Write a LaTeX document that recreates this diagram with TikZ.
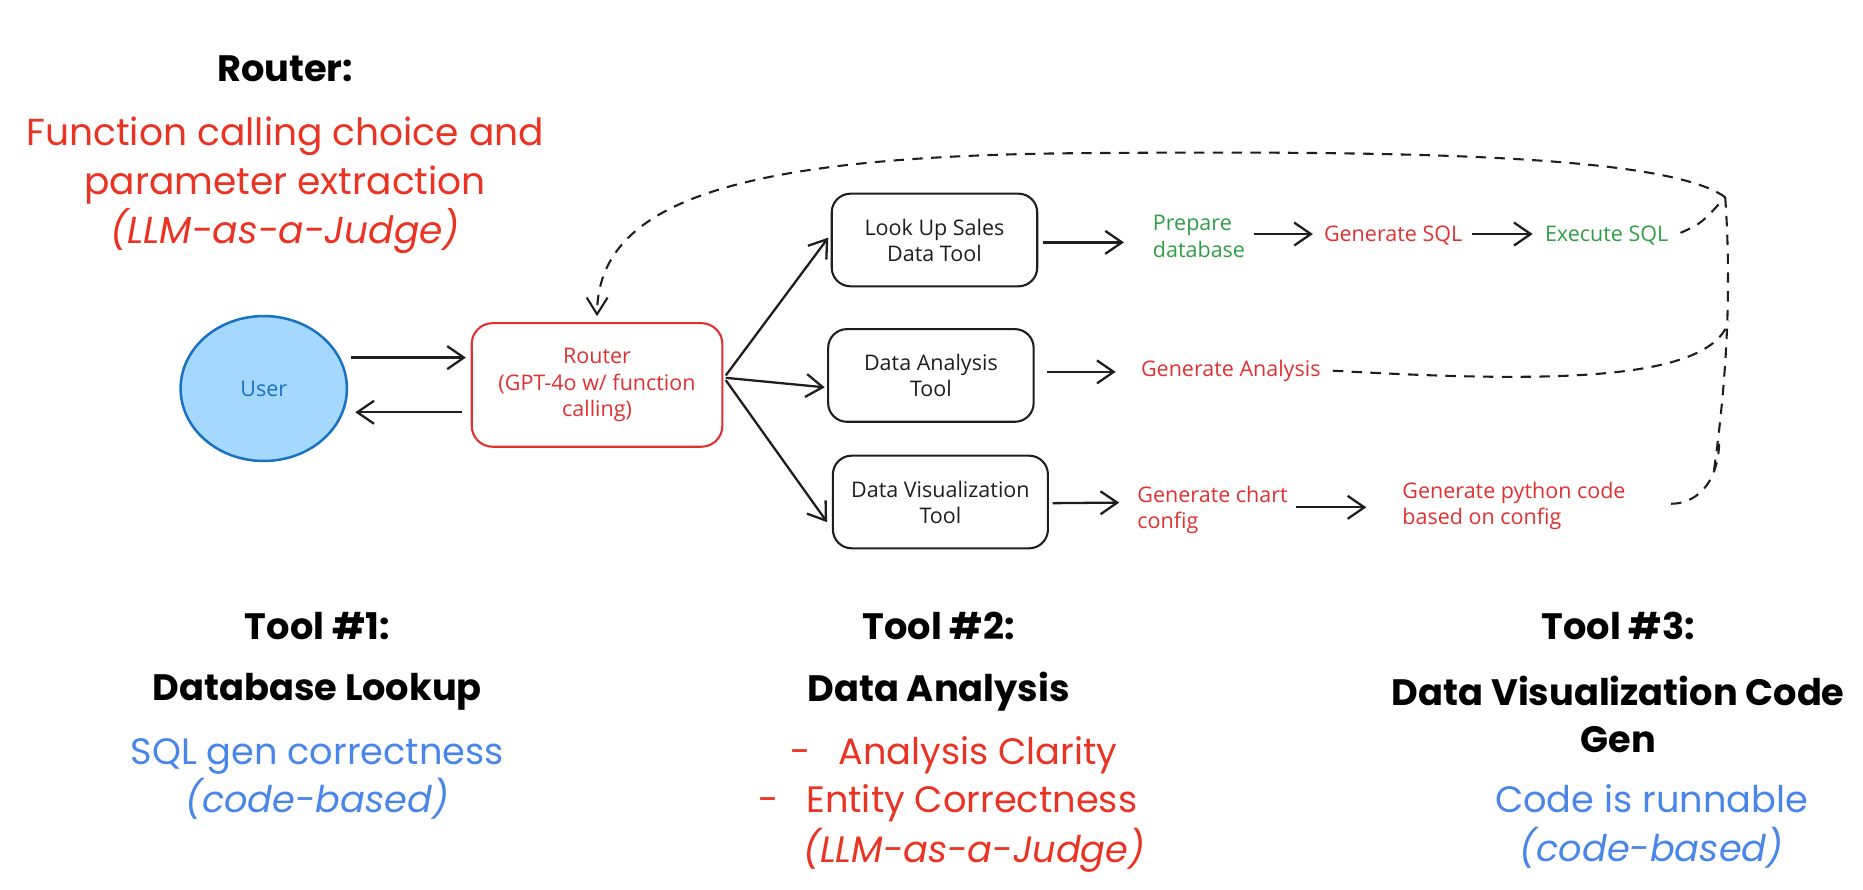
\documentclass[tikz,border=0pt]{standalone}
\usepackage{fontspec}
\setmainfont{Poppins}
\newfontfamily\handfont{Open Sans}
\usetikzlibrary{arrows.meta,shapes.geometric,calc}
\definecolor{xred}{HTML}{E03131}
\definecolor{xgreen}{HTML}{2F9E44}
\definecolor{xblue}{HTML}{1971C2}
\definecolor{xfill}{HTML}{A5D8FF}
\definecolor{sred}{HTML}{EA3323}
\definecolor{sblue}{HTML}{4A86E8}
\definecolor{ink}{HTML}{1E1E1E}
\begin{document}
\begin{tikzpicture}[x=0.02cm,y=-0.02cm,
  handtxt/.style={font=\handfont\fontsize{10.3}{12.5}\selectfont, inner sep=0pt, align=left},
  boxnode/.style={draw=ink, line width=1pt, rounded corners=9pt, minimum height=1.56cm, inner sep=0pt, text=ink, handtxt, align=center},
  routernode/.style={draw=xred, line width=1pt, rounded corners=10pt, minimum width=4.22cm, minimum height=2.08cm, inner sep=0pt, text=xred, handtxt, align=center},
  usernode/.style={ellipse, draw=xblue, fill=xfill, line width=1.2pt, minimum width=2.8cm, minimum height=2.44cm, inner sep=0pt, text=xblue, handtxt},
  bigtxt/.style={font=\fontsize{17.6}{22.7}\selectfont, inner sep=0pt, align=center},
  headtxt/.style={font=\bfseries\fontsize{17.6}{22.7}\selectfont, inner sep=0pt, align=center, text=black},
  arr/.style={draw=ink, line width=1.1pt, -{Straight Barb[length=8pt,width=11pt,line width=1.1pt]}},
  dashln/.style={draw=ink, line width=1pt, dash pattern=on 5pt off 4pt},
]
\useasboundingbox (0,0) rectangle (1568,749);

% top-left description
\node[headtxt] (rtitle) at (240,58) {Router:};
\node[bigtxt, text=sred, font=\fontsize{18}{23.5}\selectfont] (rdesc) at (240,156)
  {Function calling choice and\\parameter extraction\\\textit{(LLM-as-a-Judge)}};

% diagram nodes
\node[usernode] (user) at (222,327) {User};
\node[routernode] (router) at (502.5,324) {Router\\(GPT-4o w/ function\\calling)};
\node[boxnode, minimum width=3.46cm] (lookup) at (786.5,202) {Look Up Sales\\Data Tool};
\node[boxnode, minimum width=3.46cm] (analysis) at (783.5,316) {Data Analysis\\Tool};
\node[boxnode, minimum width=3.62cm] (viz) at (791.5,422.5) {Data Visualization\\Tool};

\node[handtxt, text=xgreen, anchor=west] (prep) at (970,199) {Prepare\\database};
\node[handtxt, text=xred, anchor=west] (gensql) at (1114,198) {Generate SQL};
\node[handtxt, text=xgreen, anchor=west] (exec) at (1300,198) {Execute SQL};
\node[handtxt, text=xred, anchor=west] (genan) at (960,312) {Generate Analysis};
\node[handtxt, text=xred, anchor=west] (chart) at (957,429) {Generate chart\\config};
\node[handtxt, text=xred, anchor=west] (pyth) at (1180,426) {Generate python code\\based on config};

% user <-> router
\draw[arr] ($(user.east)+(2,-26)$) -- ($(router.west)+(-4,-23)$);
\draw[arr] ($(router.west)+(-7,23)$) -- ($(user.east)+(6,20)$);

% router -> tools
\draw[arr] ($(router.east)+(2,-8)$) -- ($(lookup.west)+(-2,-2)$);
\draw[arr] ($(router.east)+(2,-6)$) -- ($(analysis.west)+(-2,10)$);
\draw[arr] ($(router.east)+(2,-4)$) -- ($(viz.west)+(-4,17)$);

% tool chains
\draw[arr] ($(lookup.east)+(4,2)$) -- ($(prep.west)+(-24,5)$);
\draw[arr] ($(prep.east)+(7,-2)$) -- ($(gensql.west)+(-9,-1)$);
\draw[arr] ($(gensql.east)+(8,-1)$) -- ($(exec.west)+(-10,-1)$);
\draw[arr] ($(analysis.east)+(10,-3)$) -- ($(genan.west)+(-21,1)$);
\draw[arr] ($(viz.east)+(3,1)$) -- ($(chart.west)+(-15,-6)$);
\draw[arr] ($(chart.east)+(7,-2)$) -- ($(pyth.west)+(-30,1)$);

% dashed feedback
\coordinate (corner) at (1452,166);
\draw[dashln] ($(exec.east)+(10,-2)$) .. controls (1432,188) .. (corner);
\draw[dashln] ($(genan.east)+(10,0)$) .. controls (1300,322) and (1440,322) .. (1455,270);
\draw[dashln] ($(pyth.east)+(38,-2)$) .. controls (1425,424) and (1446,410) .. (1447,372);
\draw[dashln] (corner) .. controls (1458,250) and (1452,330) .. (1442,400);
\draw[dashln, -{Straight Barb[length=8pt,width=10pt,line width=1pt]}]
  (corner) .. controls (1400,128) and (1150,127) .. (900,129)
  .. controls (620,132) and (503,170) .. ($(router.north)+(0,-5)$);

% bottom descriptions
\node[headtxt] (t1h) at (267,527) {Tool \#1:};
\node[headtxt] (t1n) at (267,582) {Database Lookup};
\node[bigtxt, text=sblue] (t1d) at (267,655.5) {SQL gen correctness\\\textit{(code-based)}};

\node[headtxt] (t2h) at (790,527) {Tool \#2:};
\node[headtxt] (t2n) at (790,582) {Data Analysis};
\node[bigtxt, text=sred, anchor=west] (t2a) at (665,636) {-\hspace{0.75em}Analysis Clarity};
\node[bigtxt, text=sred, anchor=west] (t2b) at (638,676) {-\hspace{0.75em}Entity Correctness};
\node[bigtxt, text=sred] (t2c) at (820,716) {\textit{(LLM-as-a-Judge)}};

\node[headtxt] (t3h) at (1362,527) {Tool \#3:};
\node[headtxt] (t3n) at (1362,601.5) {Data Visualization Code\\Gen};
\node[bigtxt, text=sblue, font=\fontsize{17.6}{23.3}\selectfont] (t3d) at (1390,695.5) {Code is runnable\\\textit{(code-based)}};
\end{tikzpicture}
\end{document}
